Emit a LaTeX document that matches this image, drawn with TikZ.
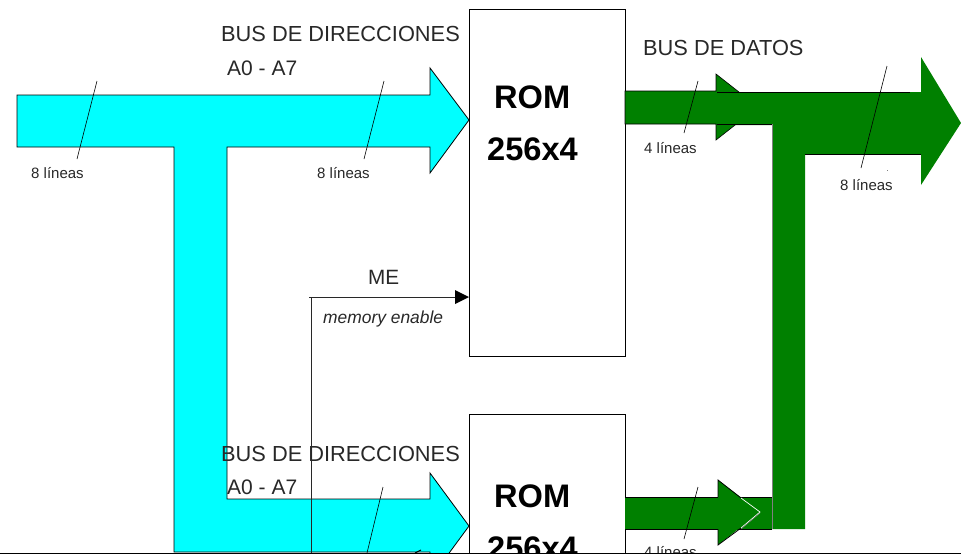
\documentclass[tikz,border=0pt]{standalone}
\usepackage{fontspec}
\setmainfont{Liberation Sans}
\definecolor{busgreen}{RGB}{0,128,0}
\definecolor{buscyan}{RGB}{0,255,255}
\definecolor{inkgrey}{RGB}{40,40,40}
\newcommand{\fsz}[1]{\fontsize{#1}{#1}\selectfont}
\tikzset{
  x=1pt,y=-1pt,
  lbl/.style={inner sep=0pt,anchor=base west,text=inkgrey},
  buslbl/.style={lbl,font=\fsz{21.8}},
  addrlbl/.style={lbl,font=\fsz{21}},
  linelbl/.style={lbl,font=\fsz{15}},
  romlbl/.style={lbl,text=black,font=\fsz{32.6}\bfseries},
  rombox/.style={draw=black,line width=.8pt,fill=white,inner sep=0pt,anchor=north west},
  edge/.style={draw=black,line width=.8pt},
  slash/.style={draw=black,line width=.6pt},
  cyanfill/.style={fill=buscyan,draw=black,line width=.8pt},
}
\begin{document}
\begin{tikzpicture}
\useasboundingbox (0,0) rectangle (961,555);
\fill[white] (0,0) rectangle (961,555);
\begin{scope}
\clip (0,0) rectangle (961,553);
% ROM boxes
\node[rombox,minimum width=156pt,minimum height=347pt] (rom1) at (469,9) {};
\node[rombox,minimum width=156pt,minimum height=200pt] (rom2) at (469,414) {};
% cyan bus
\path[cyanfill] (17,95) -- (430,95) -- (430,68) -- (469,120) -- (430,173) -- (430,147)
  -- (227,147) -- (227,499) -- (430,499) -- (430,473) -- (469,526) -- (430,579) -- (430,552)
  -- (174,552) -- (174,147) -- (17,147) -- cycle;
% green small arrows
\path[fill=busgreen,draw=black,line width=.6pt] (625,91) -- (716,91) -- (716,74) -- (758,107) -- (716,140) -- (716,124) -- (625,124) -- cycle;
% green big arrow
\fill[busgreen] (717,92) -- (921,92) -- (921,57) -- (961,123) -- (921,185) -- (921,154)
  -- (805,154) -- (805,529) -- (772,529) -- (772,125) -- (717,125) -- cycle;
\draw[edge] (717,92) -- (910,92);
\draw[edge] (717,124.500) -- (772,124.500);
\draw[draw=gray,line width=.8pt] (772.500,124) -- (772.500,529);
\draw[edge,line width=.5pt] (805,154) -- (921,154);
% lower green
\fill[busgreen] (625,497) -- (772,497) -- (772,529) -- (625,529) -- cycle;
\draw[edge] (625,497) -- (772,497);
\draw[edge] (625,529) -- (772,529);
\path[fill=busgreen] (718,480) -- (760,512) -- (718,545) -- cycle;
\fill[busgreen] (718,497) rectangle (730,529);
\draw[edge] (718,497) -- (718,480) -- (741,498);
\draw[edge] (718,529) -- (718,545) -- (741,528);
\draw[draw=white,line width=.7pt] (741,498) -- (760,512) -- (741,528);
\draw[draw=gray,line width=.5pt] (760,513) -- (741,529);
% connectors
\coordinate (mecorner) at (311,297);
\coordinate (mefoot) at (311,553);
\coordinate (mestart) at (309,297);
\draw[draw=inkgrey,line width=.7pt] (mecorner) -- (mefoot);
\draw[draw=inkgrey,line width=.9pt] (mestart) -- (455,297);
\fill[black] (455,290) -- (469,297) -- (455,304) -- cycle;
% tick marks
\draw[slash] (97,81) -- (77,159);
\draw[slash] (384,81) -- (364,159);
\draw[slash] (698,81) -- (684,133);
\draw[slash] (887,66) -- (861,168);
\draw[slash] (383,487) -- (367,553);
\draw[slash] (698,487) -- (684,539);
\draw[black,line width=1pt] (415,553) -- (421,550);
\fill[gray] (886.500,169.500) rectangle (887.500,170.500);
% labels
\node[buslbl] (t1) at (221,41) {BUS DE DIRECCIONES};
\node[addrlbl] (t2) at (227,75) {A0 - A7};
\node[buslbl] (t3) at (643,55) {BUS DE DATOS};
\node[linelbl] (t4) at (31,178) {8 líneas};
\node[linelbl] (t5) at (317,178) {8 líneas};
\node[linelbl] (t6) at (644,153) {4 líneas};
\node[linelbl] (t7) at (840,190) {8 líneas};
\node[romlbl] (t8) at (494,108) {ROM};
\node[romlbl] (t9) at (487,160) {256x4};
\node[lbl,font=\fsz{20.700}] (t10) at (368,284) {ME};
\node[lbl,font=\fsz{17.400}\itshape] (t11) at (323,323) {memory enable};
\node[buslbl] (t12) at (221,461) {BUS DE DIRECCIONES};
\node[addrlbl] (t13) at (227,494) {A0 - A7};
\node[romlbl] (t14) at (494,507) {ROM};
\node[romlbl] (t15) at (487,559) {256x4};
\node[linelbl] (t16) at (644,557) {4 líneas};
\end{scope}
\draw[black,line width=1pt] (0,553) -- (961,553);
\end{tikzpicture}
\end{document}
